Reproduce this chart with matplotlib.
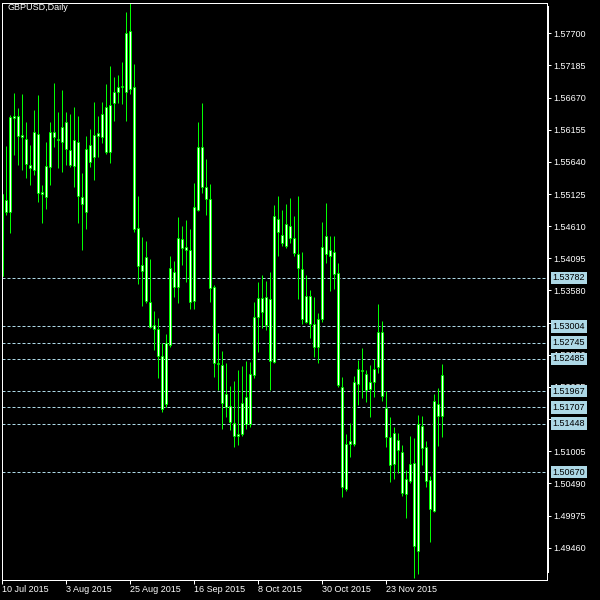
import matplotlib
matplotlib.use("Agg")
import matplotlib.pyplot as plt
from matplotlib.lines import Line2D

plt.rcParams['font.family'] = ['Liberation Sans', 'DejaVu Sans']

chart_title = "GBPUSD,Daily"

high = [1.5514, 1.55899, 1.56391, 1.56739, 1.56508, 1.56727, 1.56279, 1.55910, 1.56471, 1.56711,
        1.55270, 1.55963, 1.56284, 1.56899, 1.56439, 1.56791, 1.56444, 1.56402, 1.56514, 1.56375,
        1.55457, 1.56055, 1.56162, 1.56594, 1.56375, 1.56604, 1.56888, 1.57176, 1.57004, 1.57027,
        1.57240, 1.58041, 1.58190, 1.57208, 1.55094, 1.54442, 1.54378, 1.54084, 1.53251, 1.53144,
        1.52734, 1.52883, 1.54132, 1.54052, 1.54762, 1.54613, 1.54709, 1.54565, 1.55297, 1.56284,
        1.56583, 1.55686, 1.55286, 1.53668, 1.52894, 1.52611, 1.52414, 1.52050, 1.52130, 1.52306,
        1.52370, 1.52451, 1.52435, 1.53391, 1.53716, 1.53828, 1.53732, 1.53876, 1.54949, 1.55094,
        1.54869, 1.54965, 1.55061, 1.54773, 1.55094, 1.54197, 1.53828, 1.53588, 1.53471, 1.53215,
        1.54672, 1.54977, 1.54453, 1.54453, 1.54016, 1.52199, 1.51276, 1.51453, 1.52210, 1.52467,
        1.52654, 1.52306, 1.52386, 1.52478, 1.53364, 1.53091, 1.51975, 1.51558, 1.51398, 1.51292,
        1.51105, 1.50705, 1.51254, 1.51212, 1.51586, 1.51574, 1.51169, 1.50608, 1.51922, 1.52023,
        1.52402]

body_top = [1.5513, 1.55029, 1.56364, 1.56375, 1.56370, 1.56071, 1.56002, 1.55590, 1.56114, 1.56082,
            1.55158, 1.55574, 1.56114, 1.56114, 1.56007, 1.56204, 1.56284, 1.55830, 1.55991, 1.55963,
            1.55073, 1.55842, 1.55906, 1.56071, 1.56103, 1.56407, 1.56514, 1.56546, 1.56755, 1.56835,
            1.56856, 1.57700, 1.57736, 1.56844, 1.54576, 1.53988, 1.54112, 1.53391, 1.53027, 1.52958,
            1.52531, 1.52734, 1.53935, 1.53871, 1.54416, 1.54400, 1.54272, 1.54229, 1.54912, 1.55883,
            1.55878, 1.55233, 1.55045, 1.53631, 1.52420, 1.52386, 1.51917, 1.51730, 1.51462, 1.51281,
            1.51773, 1.51869, 1.52242, 1.53151, 1.53455, 1.53455, 1.53471, 1.53448, 1.54773, 1.54720,
            1.54469, 1.54640, 1.54618, 1.54416, 1.54160, 1.53924, 1.53492, 1.53492, 1.53038, 1.53119,
            1.54272, 1.54453, 1.54229, 1.54192, 1.53865, 1.52039, 1.51116, 1.51174, 1.52119, 1.52318,
            1.52300, 1.52242, 1.52119, 1.52318, 1.52910, 1.52910, 1.51693, 1.51228, 1.51292, 1.51185,
            1.50988, 1.50556, 1.50796, 1.50822, 1.51441, 1.51409, 1.51068, 1.50544, 1.51810, 1.51762,
            1.52226]

body_bottom = [1.5381, 1.54842, 1.54842, 1.56343, 1.56059, 1.56043, 1.55601, 1.55537, 1.55510, 1.55137,
               1.55121, 1.55082, 1.55563, 1.56043, 1.55996, 1.55963, 1.55842, 1.55590, 1.55579, 1.55098,
               1.54961, 1.54842, 1.55643, 1.55713, 1.56059, 1.56043, 1.55803, 1.55803, 1.56578, 1.56755,
               1.56846, 1.56764, 1.56803, 1.54565, 1.53977, 1.53897, 1.53416, 1.53000, 1.52958, 1.52535,
               1.51677, 1.51762, 1.52707, 1.53641, 1.53641, 1.54265, 1.54229, 1.53400, 1.53416, 1.54869,
               1.55242, 1.55045, 1.53615, 1.52414, 1.52408, 1.51773, 1.51719, 1.51478, 1.51254, 1.51254,
               1.51276, 1.51441, 1.51441, 1.52226, 1.53151, 1.53240, 1.53032, 1.52455, 1.52439, 1.54512,
               1.54336, 1.54297, 1.54416, 1.54185, 1.53935, 1.53119, 1.53080, 1.53043, 1.52670, 1.52670,
               1.53119, 1.54164, 1.54132, 1.53844, 1.52066, 1.50427, 1.50395, 1.51116, 1.51116, 1.52077,
               1.52288, 1.51986, 1.52002, 1.52119, 1.52359, 1.51895, 1.51228, 1.50785, 1.50796, 1.51025,
               1.50331, 1.50320, 1.50528, 1.49492, 1.49412, 1.51052, 1.50528, 1.50075, 1.50048, 1.51574,
               1.51574]

low = [1.5380, 1.54789, 1.54501, 1.55750, 1.55590, 1.55510, 1.55377, 1.55270, 1.55430, 1.55002,
       1.54666, 1.54885, 1.55270, 1.55874, 1.55542, 1.55483, 1.55590, 1.55553, 1.55242, 1.54666,
       1.54229, 1.54565, 1.55563, 1.55350, 1.55723, 1.55947, 1.55766, 1.55617, 1.56300, 1.56578,
       1.56572, 1.56300, 1.56720, 1.54522, 1.53684, 1.53332, 1.53384, 1.52974, 1.52627, 1.52183,
       1.51638, 1.51719, 1.52680, 1.53480, 1.53384, 1.53988, 1.53721, 1.53283, 1.53283, 1.54853,
       1.55137, 1.54789, 1.53400, 1.52199, 1.51986, 1.51357, 1.51558, 1.51345, 1.51068, 1.51105,
       1.51249, 1.51357, 1.51389, 1.52173, 1.52600, 1.52984, 1.52947, 1.51986, 1.52419, 1.54132,
       1.54297, 1.54256, 1.54345, 1.54132, 1.53444, 1.53043, 1.53059, 1.52824, 1.52510, 1.52414,
       1.53080, 1.54025, 1.53577, 1.53599, 1.52039, 1.50267, 1.50373, 1.50908, 1.51089, 1.51746,
       1.51863, 1.51794, 1.51549, 1.51879, 1.52263, 1.51810, 1.51078, 1.50517, 1.50560, 1.50652,
       1.50293, 1.49931, 1.50501, 1.48970, 1.49034, 1.50785, 1.50437, 1.49556, 1.50032, 1.51094,
       1.51238]

level_lines = [1.53782, 1.53004, 1.52745, 1.52485, 1.51967, 1.51707, 1.51448, 1.50670]

price_ticks = [1.57700, 1.57185, 1.56670, 1.56155, 1.55640, 1.55125, 1.54610, 1.54095, 1.53580,
               1.53065, 1.52550, 1.52035, 1.51520, 1.51005, 1.50490, 1.49975, 1.49460]

date_tick_bars = [0, 16, 32, 48, 64, 80, 96]
date_tick_labels = ["10 Jul 2015", "3 Aug 2015", "25 Aug 2015", "16 Sep 2015",
                    "8 Oct 2015", "30 Oct 2015", "23 Nov 2015"]

GREEN = "#00ff00"
LEVEL = "#add8e6"
PX = 0.72  # one pixel in points at dpi 100
FS = 6.5

fig = plt.figure(figsize=(6, 6), dpi=100, facecolor="black")
ax = fig.add_axes([2.2 / 600, 20.2 / 600, 545 / 600, 577 / 600])
ax.set_facecolor("black")
ax.set_xlim(0, 545 / 4)
ax.set_ylim(1.48946, 1.58188)

for s in ax.spines.values():
    s.set_color("white")
    s.set_linewidth(PX)
    s.set_zorder(6)

# level lines
for lv in level_lines:
    ax.axhline(lv, color=LEVEL, lw=PX, ls=(0, (3, 2)), zorder=1)

# candles: green wick, white body core, green body frame
xs = list(range(len(high)))
half = 0.25
ax.vlines(xs, low, high, color=GREEN, lw=PX, zorder=2)
ax.vlines(xs, body_bottom, body_top, color="white", lw=PX, zorder=3)
ax.vlines([x - half for x in xs], body_bottom, body_top, color=GREEN, lw=PX, zorder=4)
ax.vlines([x + half for x in xs], body_bottom, body_top, color=GREEN, lw=PX, zorder=4)
ax.hlines(body_top, [x - half for x in xs], [x + half for x in xs], color=GREEN, lw=PX, zorder=4)
ax.hlines(body_bottom, [x - half for x in xs], [x + half for x in xs], color=GREEN, lw=PX, zorder=4)

# y axis on right
ax.yaxis.tick_right()
ax.set_yticks(price_ticks)
ax.set_yticklabels(["%.5f" % t for t in price_ticks])
ax.tick_params(axis="y", colors="white", length=2.9, width=PX, pad=1.2, labelsize=FS)

# x axis
ax.set_xticks(date_tick_bars)
ax.set_xticklabels(date_tick_labels)
ax.tick_params(axis="x", colors="white", length=2.9, width=PX, pad=1.0, labelsize=FS)
for lab in ax.get_xticklabels():
    lab.set_horizontalalignment("left")

# level labels
for lv in level_lines:
    ax.text(1.0 + 5.5 / 545, lv, "%.5f" % lv, transform=ax.get_yaxis_transform(),
            ha="left", va="center", fontsize=FS, color="black", zorder=10, clip_on=False,
            bbox=dict(boxstyle="square,pad=0.2", facecolor=LEVEL, edgecolor="none"))

# thick price scale line
fig.add_artist(Line2D([548 / 600, 548 / 600], [(600 - 7) / 600, (600 - 572) / 600],
                      color="white", lw=1.44))

fig.text(7 / 600, 1 - 3.5 / 600, chart_title, color="white", fontsize=FS, ha="left", va="top")

fig.savefig("out.png", dpi=100, facecolor="black")
